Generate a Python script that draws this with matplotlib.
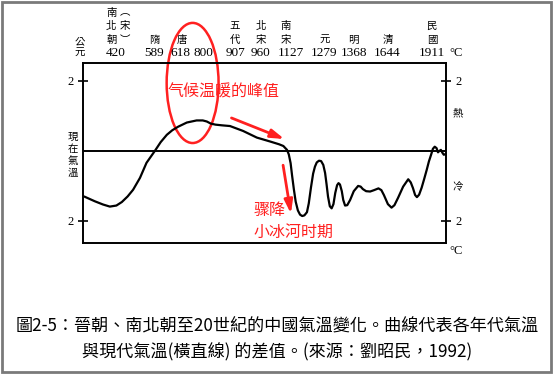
import matplotlib.pyplot as plt
from matplotlib.patches import Ellipse, Rectangle

plt.rcParams['font.family'] = ['Noto Sans CJK TC', 'DejaVu Sans']

# 曲線：相對時間位置 (0-100) 與溫差 (°C)
pos = [0.5, 2.0, 3.3, 5.5, 7.4, 9.2, 10.7, 12.3, 13.8, 15.7, 17.5, 19.8, 21.4, 23.1, 24.6,
       26.2, 28.6, 31.3, 33.0, 34.1, 35.2, 36.5, 38.3, 40.5, 42.3, 44.1, 47.9, 51.5, 54.0,
       55.2, 56.2, 56.7, 57.2, 57.6, 58.1, 58.6, 59.2, 59.8, 60.4, 61.0, 61.7, 62.2, 62.8,
       63.4, 63.9, 64.4, 65.0, 65.6, 66.2, 66.7, 67.1, 67.5, 68.0, 68.5, 69.0, 69.5, 70.0,
       70.4, 70.8, 71.3, 71.7, 72.2, 72.8, 73.6, 74.6, 75.8, 76.5, 77.1, 78.0, 79.1, 80.2,
       81.4, 82.2, 82.9, 84.0, 85.0, 85.8, 86.8, 88.2, 89.6, 90.3, 90.9, 91.5, 92.0, 92.6,
       93.3, 94.0, 94.7, 95.3, 95.9, 96.4, 96.9, 97.4, 97.8, 98.2, 98.6, 99.0, 99.4, 99.9]
temp = [-1.31, -1.38, -1.44, -1.53, -1.59, -1.56, -1.46, -1.30, -1.11, -0.77, -0.34, 0.00, 0.25, 0.46, 0.59,
        0.69, 0.81, 0.87, 0.87, 0.84, 0.78, 0.75, 0.73, 0.71, 0.64, 0.57, 0.38, 0.27, 0.19,
        0.14, 0.03, -0.10, -0.35, -0.70, -1.10, -1.45, -1.70, -1.82, -1.86, -1.84, -1.75, -1.50, -1.05,
        -0.65, -0.45, -0.33, -0.28, -0.29, -0.40, -0.63, -0.95, -1.30, -1.58, -1.64, -1.52, -1.20, -0.98,
        -0.92, -0.96, -1.15, -1.40, -1.56, -1.55, -1.40, -1.15, -1.00, -1.02, -1.09, -1.15, -1.16, -1.12,
        -1.07, -1.12, -1.26, -1.52, -1.62, -1.55, -1.34, -1.02, -0.81, -0.90, -1.06, -1.26, -1.32, -1.25,
        -1.05, -0.80, -0.54, -0.30, -0.11, 0.06, 0.12, 0.08, -0.04, 0.00, 0.03, -0.05, -0.11, -0.09]

# 頂部年份與朝代
years = ['420', '589', '618', '800', '907', '960', '1127', '1279', '1368', '1644', '1911']
year_pos = [9.1, 19.6, 26.7, 33.3, 42.1, 49.0, 57.2, 66.4, 74.7, 83.9, 96.1]
dynasties = ['南北朝', '︵宋︶', '隋', '唐', '五代', '北宋', '南宋', '元', '明', '清', '民國']
dyn_pos = [7.8, 11.6, 19.6, 27.2, 41.8, 49.0, 55.8, 66.7, 74.4, 84.0, 96.1]

caption1 = '圖2-5：晉朝、南北朝至20世紀的中國氣溫變化。曲線代表各年代氣溫'
caption2 = '與現代氣溫(橫直線) 的差值。(來源：劉昭民，1992)'

fig = plt.figure(figsize=(5.54, 3.77), dpi=100)
fig.patches.append(Rectangle((0.003, 0.012), 0.991, 0.983, transform=fig.transFigure,
                             fill=False, edgecolor='#7a7a7a', linewidth=2))

ax = fig.add_axes([0.1498, 0.3554, 0.6552, 0.4775])
ax.plot(pos, temp, color='black', linewidth=1.6)
ax.axhline(0, color='black', linewidth=1.4)
ax.set_xlim(0, 100)
ax.set_ylim(-2.63, 2.51)
ax.set_xticks([])
ax.set_yticks([2, -2])
ax.set_yticklabels(['2', '2'], fontfamily='Liberation Serif', fontsize=9)
ax.tick_params(axis='y', direction='inout', length=7, width=1.2, pad=3,
               left=True, right=True, labelleft=True, labelright=True)
for s in ax.spines.values():
    s.set_linewidth(1.4)

tr = ax.get_xaxis_transform()
for x, y in zip(year_pos, years):
    ax.text(x, 1.056, y, transform=tr, ha='center', va='center',
            fontfamily='Liberation Serif', fontsize=9.5)
# 朝代名直排，逐字放置，底行對齊
for x, d in zip(dyn_pos, dynasties):
    n = len(d)
    for i, ch in enumerate(d):
        k = n - 1 - i
        ax.text(x, 1.13 + 0.075 * k, ch, transform=tr, ha='center', va='center', fontsize=7.5)
ax.text(-0.9, 1.12, '公', transform=tr, ha='center', va='center', fontsize=7.5)
ax.text(-0.9, 1.056, '元', transform=tr, ha='center', va='center', fontsize=7.5)
ax.text(102.8, 1.056, '°C', transform=tr, ha='center', va='center',
        fontfamily='Liberation Serif', fontsize=9)
ax.text(102.8, -0.045, '°C', transform=tr, ha='center', va='center',
        fontfamily='Liberation Serif', fontsize=9)
ax.text(-0.028, 0.49, '\n'.join('現在氣溫'), transform=ax.transAxes, ha='center', va='center',
        fontsize=7.5, linespacing=1.25)
ax.text(1.032, 0.72, '熱', transform=ax.transAxes, ha='center', va='center', fontsize=7.5)
ax.text(1.032, 0.31, '冷', transform=ax.transAxes, ha='center', va='center', fontsize=7.5)

# 紅色標註
red = '#ff2020'
ax.add_patch(Ellipse((30.2, 1.94), 14.3, 3.43, fill=False, edgecolor=red,
                     linewidth=1.8, clip_on=False))
ax.text(38.6, 1.69, '气候温暖的峰值', ha='center', va='center', color=red, fontsize=11.5,
        fontfamily='Noto Sans CJK SC')
ax.annotate('', xy=(56.2, 0.31), xytext=(40.2, 0.97),
            arrowprops=dict(arrowstyle='-|>,head_length=0.8,head_width=0.25',
                            color=red, linewidth=2))
ax.annotate('', xy=(57.4, -1.87), xytext=(55.0, -0.33),
            arrowprops=dict(arrowstyle='-|>,head_length=0.8,head_width=0.25',
                            color=red, linewidth=2))
ax.text(46.9, -1.69, '骤降', ha='left', va='center', color=red, fontsize=11.5,
        fontfamily='Noto Sans CJK SC')
ax.text(46.9, -2.33, '小冰河时期', ha='left', va='center', color=red, fontsize=11.5,
        fontfamily='Noto Sans CJK SC')

fig.text(0.5, 1 - 326.7 / 377, caption1, ha='center', va='center', fontsize=12.3)
fig.text(0.5, 1 - 352.7 / 377, caption2, ha='center', va='center', fontsize=12.3)

fig.savefig('out.png', dpi=100)
